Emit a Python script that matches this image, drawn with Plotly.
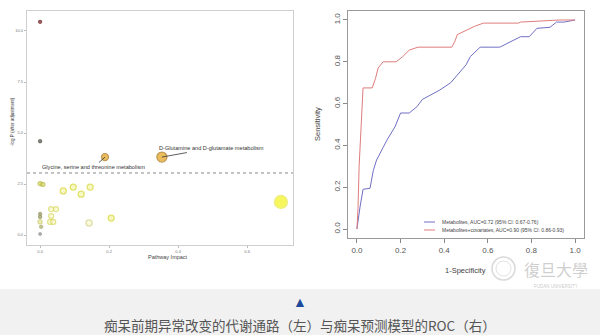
import plotly.graph_objects as go

# ---------------- Left panel: pathway impact ----------------
impact = [0.0, 0.0, 0.188, 0.353, 0.0, 0.008, 0.067, 0.096, 0.119, 0.145,
          0.032, 0.046, 0.032, 0.029, 0.038, 0.0, 0.0, 0.0, 0.003, 0.0,
          0.142, 0.206, 0.698]
neglogp = [10.45, 4.6, 3.82, 3.82, 2.52, 2.48, 2.16, 2.35, 2.0, 2.35,
           1.27, 1.27, 0.93, 0.64, 0.64, 1.03, 0.88, 0.64, 0.4, 0.05,
           0.59, 0.83, 1.62]
pt_size = [3, 3, 7, 10, 4, 4, 6, 6, 6, 6,
           5, 5, 5, 5, 5, 3, 3, 4, 3, 2.5,
           6, 6, 13]
pt_fill = ['#8b1a1a', '#5e5a50', '#e3a21a', '#e3a21a', '#d8d860', '#d8d860',
           '#f6f6b0', '#f6f6b0', '#f6f6b0', '#f6f6b0',
           '#f8f8c8', '#f8f8c8', '#f8f8c8', '#f8f8c8', '#f8f8c8',
           '#9a9a60', '#a0a060', '#e8e8a0', '#b0b070', '#909090',
           '#f8f8d0', '#f4f4a0', '#f5f51a']
pt_line = ['#5a1010', '#3a3a30', '#a87010', '#a87010', '#b8b840', '#b8b840',
           '#d6d630', '#d6d630', '#d6d630', '#d6d630',
           '#d8d860', '#d8d860', '#d8d860', '#d8d860', '#d8d860',
           '#8a8a50', '#8a8a50', '#c8c860', '#a0a060', '#888888',
           '#d0d080', '#d6d630', '#e6e650']
threshold = 3.04
left_xticks = [0.0, 0.2, 0.4, 0.6]
left_xticktext = ['0.0', '0.2', '0.4', '0.6']
left_yticks = [0.0, 2.5, 5.0, 7.5, 10.0]
left_yticktext = ['0.0', '2.5', '5.0', '7.5', '10.0']
labels = [("Glycine, serine and threonine metabolism", 0.188, 3.82, -11, 10),
          ("D-Glutamine and D-glutamate metabolism", 0.353, 3.82, 50, -9)]

# ---------------- Right panel: ROC ----------------
fpr_cov = [0, 0.005, 0.01, 0.018, 0.028, 0.07, 0.085, 0.097, 0.11, 0.12, 0.18,
           0.21, 0.24, 0.28, 0.435, 0.45, 0.46, 0.50, 0.54, 0.58, 0.74, 0.75,
           0.93, 1.0]
tpr_cov = [0, 0.1, 0.3, 0.47, 0.675, 0.675, 0.72, 0.77, 0.79, 0.80, 0.80,
           0.825, 0.856, 0.87, 0.87, 0.90, 0.93, 0.95, 0.97, 0.985, 0.985, 0.99,
           1.0, 1.0]
fpr_met = [0, 0.005, 0.014, 0.028, 0.06, 0.075, 0.09, 0.12, 0.14, 0.175, 0.20,
           0.24, 0.275, 0.30, 0.335, 0.38, 0.43, 0.47, 0.50, 0.52, 0.565, 0.655,
           0.70, 0.75, 0.79, 0.825, 0.885, 0.915, 0.95, 1.0]
tpr_met = [0, 0.03, 0.105, 0.19, 0.195, 0.28, 0.33, 0.39, 0.43, 0.49, 0.555,
           0.555, 0.585, 0.62, 0.64, 0.665, 0.70, 0.75, 0.785, 0.825, 0.87, 0.87,
           0.895, 0.92, 0.92, 0.96, 0.965, 0.99, 0.99, 1.0]
roc_ticks = [0.0, 0.2, 0.4, 0.6, 0.8, 1.0]
roc_ticktext = ['0.0', '0.2', '0.4', '0.6', '0.8', '1.0']
legend_text = ["Metabolites, AUC=0.72 (95% CI: 0.67-0.76)",
               "Metabolites+covariates, AUC=0.90 (95% CI: 0.86-0.93)"]
col_met = '#6f6fc4'
col_cov = '#e07c7c'

caption = "痴呆前期异常改变的代谢通路（左）与痴呆预测模型的ROC（右）"

W, H = 600, 335
def px(x): return x / W
def py(y): return 1 - y / H

fig = go.Figure()

fig.add_trace(go.Scatter(
    x=impact, y=neglogp, mode='markers', xaxis='x', yaxis='y',
    marker=dict(size=pt_size, color=pt_fill, line=dict(color=pt_line, width=1.3)),
    showlegend=False, hoverinfo='skip'))

fig.add_trace(go.Scatter(x=fpr_met, y=tpr_met, mode='lines', xaxis='x2', yaxis='y2',
                         line=dict(color=col_met, width=1), showlegend=False))
fig.add_trace(go.Scatter(x=fpr_cov, y=tpr_cov, mode='lines', xaxis='x2', yaxis='y2',
                         line=dict(color=col_cov, width=1), showlegend=False))

small_font = dict(family='Liberation Sans, Arial', size=4, color='#777')
roc_font = dict(family='Liberation Sans, Arial', size=8, color='#555')

fig.update_layout(
    width=W, height=H, margin=dict(l=0, r=0, t=0, b=0),
    paper_bgcolor='white', plot_bgcolor='white',
    xaxis=dict(domain=[px(27), px(293)], range=[-0.038, 0.733],
               tickvals=left_xticks, ticktext=left_xticktext, ticks='outside',
               ticklen=2, tickcolor='#bbb', tickfont=small_font,
               showline=True, linecolor='#d0d0d0', linewidth=1.2, mirror=True,
               showgrid=False, zeroline=False),
    yaxis=dict(domain=[py(245), py(11)], range=[-0.49, 10.98],
               tickvals=left_yticks, ticktext=left_yticktext, ticks='outside',
               ticklen=2, tickcolor='#bbb', tickfont=small_font,
               showline=True, linecolor='#d0d0d0', linewidth=1.2, mirror=True,
               showgrid=False, zeroline=False),
    xaxis2=dict(domain=[px(348), px(584)], range=[-0.041, 1.041], anchor='y2',
                tickvals=roc_ticks, ticktext=roc_ticktext, ticks='outside',
                ticklen=4, tickcolor='#888', tickfont=roc_font,
                showline=True, linecolor='#9a9a9a', linewidth=1, mirror=True,
                showgrid=False, zeroline=False),
    yaxis2=dict(domain=[py(238), py(11)], range=[-0.043, 1.043], anchor='x2',
                tickvals=roc_ticks, ticktext=roc_ticktext, ticks='outside',
                ticklen=4, tickcolor='#888', tickfont=roc_font, tickangle=-90,
                showline=True, linecolor='#9a9a9a', linewidth=1, mirror=True,
                showgrid=False, zeroline=False),
)

shapes = []
# threshold line
shapes.append(dict(type='line', xref='x domain', yref='y', x0=0, x1=1,
                   y0=threshold, y1=threshold,
                   line=dict(color='#888', width=1, dash='dot')))
# legend swatches
for i, c in enumerate([col_met, col_cov]):
    yy = 222 + 8 * i
    shapes.append(dict(type='line', xref='paper', yref='paper',
                       x0=px(424), x1=px(435), y0=py(yy), y1=py(yy),
                       line=dict(color=c, width=1)))
# caption band
shapes.append(dict(type='rect', xref='paper', yref='paper', x0=0, x1=1,
                   y0=0, y1=py(289), fillcolor='#f1f1f1', line=dict(width=0),
                   layer='below'))
# watermark logo circle
shapes.append(dict(type='circle', xref='paper', yref='paper',
                   x0=px(492), x1=px(515), y0=py(280), y1=py(257),
                   line=dict(color='rgba(170,170,170,0.45)', width=1.5)))
shapes.append(dict(type='circle', xref='paper', yref='paper',
                   x0=px(496), x1=px(511), y0=py(276), y1=py(261),
                   line=dict(color='rgba(170,170,170,0.35)', width=1)))
fig.update_layout(shapes=shapes)


def note(x, y, text, size, color='#444', family='Liberation Sans, Arial',
         xanchor='center', angle=0):
    return dict(x=px(x), y=py(y), xref='paper', yref='paper', text=text,
                showarrow=False, xanchor=xanchor, yanchor='middle',
                textangle=angle, font=dict(family=family, size=size, color=color))


ann = []
for txt, xv, yv, axo, ayo in labels:
    ann.append(dict(x=xv, y=yv, xref='x', yref='y', text=txt, showarrow=True,
                    ax=axo, ay=ayo, arrowhead=0, arrowwidth=0.8, arrowcolor='#333',
                    standoff=0,
                    font=dict(family='Liberation Sans, Arial', size=5.6, color='#333')))
ann.append(note(168, 257, 'Pathway Impact', 5.5))
ann.append(note(12, 122, '-log P (after adjustment)', 4.5, angle=-90))
ann.append(note(466, 270, '1-Specificity', 7.5))
ann.append(note(317, 124, 'Sensitivity', 7.5, angle=-90))
for i, t in enumerate(legend_text):
    ann.append(note(440, 222 + 8 * i, t, 5, xanchor='left'))
ann.append(note(300, 302, '▲', 14, color='#1d4a9a'))
ann.append(note(300, 325, caption, 13.5, color='#555', family='Noto Sans CJK SC'))
ann.append(note(556, 269, '復旦大學', 16, color='rgba(160,160,160,0.5)',
                family='Noto Sans CJK TC'))
ann.append(note(556, 286, 'FUDAN UNIVERSITY', 4.5, color='rgba(160,160,160,0.6)'))
fig.update_layout(annotations=ann)

fig.write_html("out.html")
